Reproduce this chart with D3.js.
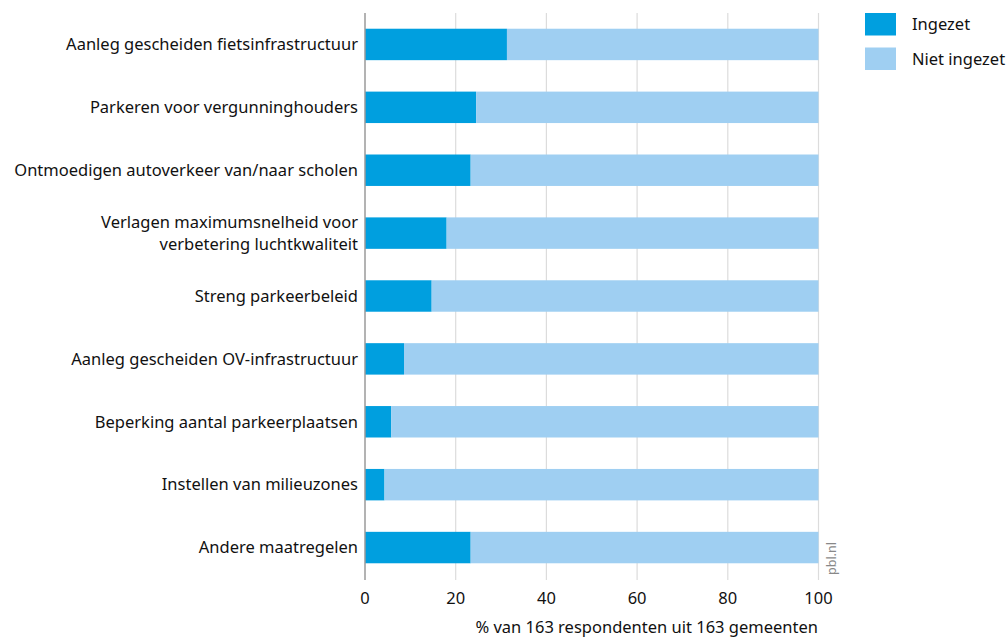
<!DOCTYPE html>
<html><head><meta charset="utf-8">
<script src="https://cdn.jsdelivr.net/npm/d3@7"></script>
<style>body{margin:0;background:#fff}svg{display:block}</style>
</head><body>
<svg id="c" width="1008" height="639"></svg>
<script>
const categories = [
  "Aanleg gescheiden fietsinfrastructuur",
  "Parkeren voor vergunninghouders",
  "Ontmoedigen autoverkeer van/naar scholen",
  "Verlagen maximumsnelheid voor\nverbetering luchtkwaliteit",
  "Streng parkeerbeleid",
  "Aanleg gescheiden OV-infrastructuur",
  "Beperking aantal parkeerplaatsen",
  "Instellen van milieuzones",
  "Andere maatregelen"
];
const ingezet = [31.3, 24.5, 23.3, 18.0, 14.7, 8.6, 5.8, 4.3, 23.3];
const nietIngezet = ingezet.map(v => 100 - v);
const seriesNames = ["Ingezet", "Niet ingezet"];
const xTicks = [0, 20, 40, 60, 80, 100];
const xTitle = "% van 163 respondenten uit 163 gemeenten";

const colors = ["#009fdf", "#9fcff2"];
const font = "'Noto Sans', sans-serif";
const fs = 16.5;
const svg = d3.select("#c");
const x = d3.scaleLinear().domain([0, 100]).range([365, 818.5]);
const y = d3.scaleBand().domain(categories).range([13, 579]).paddingInner(0.5).paddingOuter(0.25);

// gridlines
svg.append("g").selectAll("line").data(xTicks.filter(t => t > 0)).join("line")
  .attr("x1", d => x(d)).attr("x2", d => x(d)).attr("y1", 13).attr("y2", 580)
  .attr("stroke", "#dcdcdc").attr("stroke-width", 1.2);

// bars
const rows = categories.map((c, i) => ({c, a: ingezet[i], b: nietIngezet[i]}));
const g = svg.append("g");
g.selectAll("rect.a").data(rows).join("rect").attr("class", "a")
  .attr("x", x(0)).attr("y", d => y(d.c)).attr("height", y.bandwidth())
  .attr("width", d => x(d.a) - x(0)).attr("fill", colors[0]);
g.selectAll("rect.b").data(rows).join("rect").attr("class", "b")
  .attr("x", d => x(d.a)).attr("y", d => y(d.c)).attr("height", y.bandwidth())
  .attr("width", d => x(d.a + d.b) - x(d.a)).attr("fill", colors[1]);

// y axis line
svg.append("line").attr("x1", 365).attr("x2", 365).attr("y1", 13).attr("y2", 580)
  .attr("stroke", "#9a9a9a").attr("stroke-width", 1.5);

// category labels
const lab = svg.append("g").attr("font-family", font).attr("font-size", fs).attr("fill", "#111").attr("text-anchor", "end");
rows.forEach(d => {
  const lines = d.c.split("\n");
  const cy = y(d.c) + y.bandwidth() / 2;
  const t = lab.append("text").attr("x", 358).attr("y", cy - (lines.length - 1) * 11);
  lines.forEach((l, j) => t.append("tspan").attr("x", 358).attr("dy", j === 0 ? "0.35em" : 22).text(l));
});

// x tick labels
svg.append("g").attr("font-family", font).attr("font-size", fs).attr("fill", "#111").attr("text-anchor", "middle")
  .selectAll("text").data(xTicks).join("text")
  .attr("x", d => x(d)).attr("y", 598).attr("dy", "0.35em").text(d => d);

svg.append("text").attr("x", 818).attr("y", 633).attr("text-anchor", "end")
  .attr("font-family", font).attr("font-size", fs).attr("fill", "#111").text(xTitle);

// legend
const lg = svg.append("g");
seriesNames.forEach((s, i) => {
  lg.append("rect").attr("x", 865).attr("y", 13 + i * 34.5).attr("width", 31).attr("height", 22.5).attr("fill", colors[i]);
  lg.append("text").attr("x", 912).attr("y", 24.5 + i * 34.5).attr("dy", "0.35em")
    .attr("font-family", font).attr("font-size", fs).attr("fill", "#111").text(s);
});

// source
svg.append("text").attr("transform", "translate(832,575) rotate(-90)").attr("dy", "0.35em")
  .attr("font-family", font).attr("font-size", 12.5).attr("fill", "#888").text("pbl.nl");
</script>
</body></html>
